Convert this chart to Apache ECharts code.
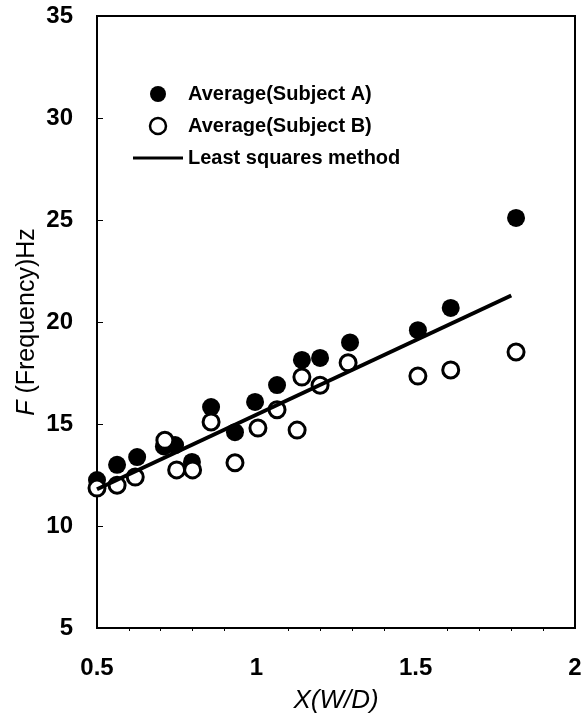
<!DOCTYPE html>
<html>
<head>
<meta charset="utf-8">
<script src="https://cdn.jsdelivr.net/npm/echarts@6/dist/echarts.min.js"></script>
<style>
  html, body { margin: 0; padding: 0; background: #fff; }
  #chart { width: 587px; height: 713px; }
</style>
</head>
<body>
<div id="chart"></div>
<script>
// Subject A averages (filled markers)
const subjectA_X = [0.50, 0.563, 0.626, 0.71, 0.745, 0.798, 0.858, 0.933, 0.996, 1.065, 1.143, 1.20, 1.294, 1.507, 1.61, 1.815];
const subjectA_Y = [12.25, 13.0, 13.38, 13.9, 13.97, 13.14, 15.83, 14.6, 16.08, 16.91, 18.14, 18.24, 19.0, 19.6, 20.69, 25.1];

// Subject B averages (open markers)
const subjectB_X = [0.50, 0.563, 0.62, 0.713, 0.75, 0.80, 0.858, 0.933, 1.005, 1.065, 1.128, 1.143, 1.20, 1.288, 1.507, 1.61, 1.815];
const subjectB_Y = [11.86, 12.0, 12.4, 14.2, 12.75, 12.75, 15.1, 13.1, 14.8, 15.7, 14.7, 17.3, 16.9, 18.0, 17.35, 17.65, 18.53];

// Least squares fit, end points
const fitX = [0.5, 1.8];
const fitY = [11.8, 21.3];

// Axis ranges
const xMin = 0.5, xMax = 2, xStep = 0.5;
const yMin = 5, yMax = 35, yStep = 5;

const seriesNames = ['Average(Subject A)', 'Average(Subject B)', 'Least squares method'];

const zip = (xs, ys) => xs.map((x, i) => [x, ys[i]]);

const font = '"Liberation Sans", Arial, sans-serif';

const chart = echarts.init(document.getElementById('chart'));
chart.setOption({
  animation: false,
  backgroundColor: '#fff',
  grid: {
    left: 97, right: 12, top: 16, bottom: 85,
    outerBoundsMode: 'none',
    show: true, borderColor: '#000', borderWidth: 2, backgroundColor: 'transparent'
  },
  legend: {
    orient: 'vertical',
    left: 128, top: 79,
    itemWidth: 50, itemHeight: 16, itemGap: 12,
    symbolKeepAspect: true,
    textStyle: { fontFamily: font, fontSize: 20, fontWeight: 'bold', color: '#000' },
    data: [
      { name: seriesNames[0], icon: 'circle', itemStyle: { color: '#000' } },
      { name: seriesNames[1], icon: 'circle', itemStyle: { color: '#fff', borderColor: '#000', borderWidth: 2.5 } },
      { name: seriesNames[2], icon: 'path://M0,0L50,0L50,3L0,3Z', itemStyle: { color: '#000', borderWidth: 0 } }
    ]
  },
  xAxis: {
    type: 'value', min: xMin, max: xMax, interval: xStep,
    name: '{i|X(W/D)}',
    nameLocation: 'middle', nameGap: 60,
    nameTextStyle: { rich: { i: { fontFamily: font, fontSize: 26, fontStyle: 'italic', color: '#000' } } },
    axisLine: { lineStyle: { color: '#000', width: 2 } },
    axisTick: { show: false },
    minorTick: { show: true, splitNumber: 5, length: 3, lineStyle: { color: '#000', width: 1 } },
    splitLine: { show: false },
    axisLabel: {
      margin: 28, color: '#000', fontFamily: font, fontSize: 24, fontWeight: 'bold',
      formatter: v => String(v)
    }
  },
  yAxis: {
    type: 'value', min: yMin, max: yMax, interval: yStep,
    name: '{i|F} (Frequency)Hz',
    nameLocation: 'middle', nameRotate: 90, nameGap: 57,
    nameMoveOverlap: false,
    nameTextStyle: {
      fontFamily: font, fontSize: 25, color: '#000',
      rich: { i: { fontFamily: font, fontSize: 25, fontStyle: 'italic', color: '#000' } }
    },
    axisLine: { lineStyle: { color: '#000', width: 2 } },
    axisTick: { inside: true, length: 6, lineStyle: { color: '#000', width: 1 } },
    splitLine: { show: false },
    axisLabel: { margin: 24, color: '#000', fontFamily: font, fontSize: 24, fontWeight: 'bold' }
  },
  series: [
    {
      name: seriesNames[0], type: 'scatter', z: 2,
      symbol: 'circle', symbolSize: 18,
      itemStyle: { color: '#000', opacity: 1 },
      data: zip(subjectA_X, subjectA_Y)
    },
    {
      name: seriesNames[1], type: 'scatter', z: 3,
      symbol: 'circle', symbolSize: 16,
      itemStyle: { color: '#fff', borderColor: '#000', borderWidth: 3, opacity: 1 },
      data: zip(subjectB_X, subjectB_Y)
    },
    {
      name: seriesNames[2], type: 'line', z: 4,
      symbol: 'none', silent: true,
      lineStyle: { color: '#000', width: 4 },
      itemStyle: { color: '#000' },
      data: zip(fitX, fitY)
    }
  ]
});
</script>
</body>
</html>
